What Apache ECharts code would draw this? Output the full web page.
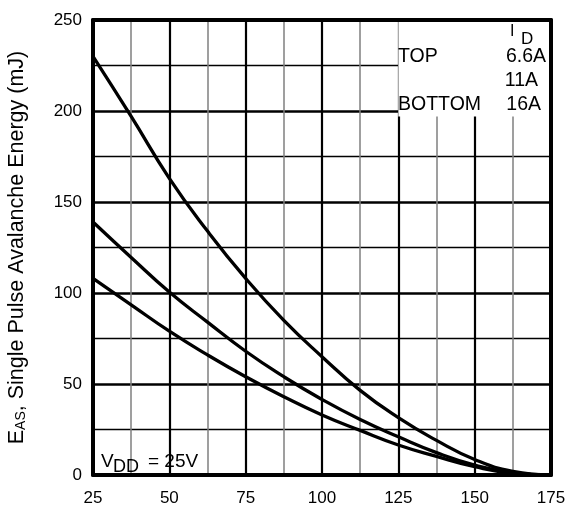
<!DOCTYPE html>
<html>
<head>
<meta charset="utf-8">
<script src="https://cdn.jsdelivr.net/npm/echarts@6/dist/echarts.min.js"></script>
<style>
html,body{margin:0;padding:0;background:#fff;}
#chart{width:566px;height:509px;}
</style>
</head>
<body>
<div id="chart"></div>
<script>
// starting junction temperature (°C)
var tempC = [25, 37.5, 50, 62.5, 75, 87.5, 100, 112.5, 125, 137.5, 150, 162.5, 175];
// EAS (mJ) for each ID
var eas66A = [230, 197, 163, 134, 108, 85, 65, 46.5, 31.5, 19, 8.5, 2, 0];
var eas11A = [139, 119.5, 100.5, 84, 68, 54, 41.5, 30.5, 21, 12.3, 5.5, 1.2, 0];
var eas16A = [108, 93.5, 79, 66, 54, 43, 33, 24.5, 16.5, 10.2, 4.6, 1, 0];
var xTicks = [25, 50, 75, 100, 125, 150, 175];
var yTicks = [0, 50, 100, 150, 200, 250];

var font = "'Liberation Sans', Arial, sans-serif";

function pairs(ys){
    var out = [];
    for (var i = 0; i < tempC.length; i++) {
        out.push([tempC[i], ys[i]]);
    }
    return out;
}

function curve(name, ys, extra){
    var s = {
        name: name,
        type: 'line',
        data: pairs(ys),
        smooth: 0.5,
        symbol: 'none',
        lineStyle: { color: '#000', width: 3.3 },
        z: 3
    };
    if (extra) { for (var k in extra) s[k] = extra[k]; }
    return s;
}

var myChart = echarts.init(document.getElementById('chart'));
var option = {
    animation: false,
    backgroundColor: '#fff',
    grid: { left: 93, right: 15, top: 20, bottom: 34, outerBoundsMode: 'none', containLabel: false },
    xAxis: [{
        type: 'value',
        min: 25, max: 175, interval: 25,
        axisLine: { show: true, lineStyle: { color: '#000', width: 4 } },
        axisTick: { show: false },
        axisLabel: {
            color: '#000', fontFamily: font, fontSize: 17, margin: 15,
            formatter: function (v) { return xTicks.indexOf(v) >= 0 ? v : ''; }
        },
        splitLine: { show: true, lineStyle: { color: '#000', width: 2.2 } },
        minorTick: { show: false, splitNumber: 2 },
        minorSplitLine: { show: true, lineStyle: { color: '#808080', width: 1.5 } }
    }, {
        // top border
        type: 'value', position: 'top',
        min: 25, max: 175, z: 10,
        axisLine: { show: true, onZero: false, lineStyle: { color: '#000', width: 4 } },
        axisTick: { show: false }, axisLabel: { show: false }, splitLine: { show: false }
    }],
    yAxis: [{
        type: 'value',
        min: 0, max: 250, interval: 50,
        name: '{e|E}{s|AS}{e|, Single Pulse Avalanche Energy (mJ)}',
        nameLocation: 'middle',
        nameGap: 65,
        nameTextStyle: {
            rich: {
                e: { fontFamily: font, fontSize: 21.5, color: '#000', verticalAlign: 'bottom' },
                s: { fontFamily: font, fontSize: 14, color: '#000', verticalAlign: 'bottom' }
            }
        },
        axisLine: { show: true, onZero: false, lineStyle: { color: '#000', width: 4 } },
        axisTick: { show: false },
        axisLabel: {
            color: '#000', fontFamily: font, fontSize: 17, margin: 11,
            formatter: function (v) { return yTicks.indexOf(v) >= 0 ? v : ''; }
        },
        splitLine: { show: true, lineStyle: { color: '#000', width: 2.5 } },
        minorTick: { show: false, splitNumber: 2 },
        minorSplitLine: { show: true, lineStyle: { color: '#000', width: 1.3 } }
    }, {
        // right border
        type: 'value', position: 'right',
        min: 0, max: 250, z: 10,
        axisLine: { show: true, onZero: false, lineStyle: { color: '#000', width: 4 } },
        axisTick: { show: false }, axisLabel: { show: false }, splitLine: { show: false }
    }],
    series: [
        curve('6.6A', eas66A, {
            markArea: {
                silent: true,
                itemStyle: { color: '#fff', borderWidth: 0 },
                data: [[{ coord: [125, 197] }, { coord: [175, 250] }]]
            }
        }),
        curve('11A', eas11A),
        curve('16A', eas16A)
    ],
    graphic: [
        { type: 'text', left: 510, top: 24, z: 100, style: { text: 'I', font: '16px ' + font, fill: '#000' } },
        { type: 'text', left: 521, top: 31, z: 100, style: { text: 'D', font: '17px ' + font, fill: '#000' } },
        { type: 'text', left: 398, top: 47, z: 100, style: { text: 'TOP', font: '19.5px ' + font, fill: '#000' } },
        { type: 'text', right: 20, top: 47, z: 100, style: { text: '6.6A', font: '19.5px ' + font, fill: '#000' } },
        { type: 'text', right: 28, top: 71, z: 100, style: { text: '11A', font: '19.5px ' + font, fill: '#000' } },
        { type: 'text', left: 398, top: 95, z: 100, style: { text: 'BOTTOM', font: '19.5px ' + font, fill: '#000' } },
        { type: 'text', right: 25, top: 95, z: 100, style: { text: '16A', font: '19.5px ' + font, fill: '#000' } },
        { type: 'text', left: 101, top: 452, z: 100, style: { text: 'V', font: '19px ' + font, fill: '#000' } },
        { type: 'text', left: 113, top: 458, z: 100, style: { text: 'DD', font: '18px ' + font, fill: '#000' } },
        { type: 'text', left: 148, top: 452, z: 100, style: { text: '= 25V', font: '19px ' + font, fill: '#000' } }
    ]
};
myChart.setOption(option);
window.addEventListener('resize', function () { myChart.resize(); });
</script>
</body>
</html>
